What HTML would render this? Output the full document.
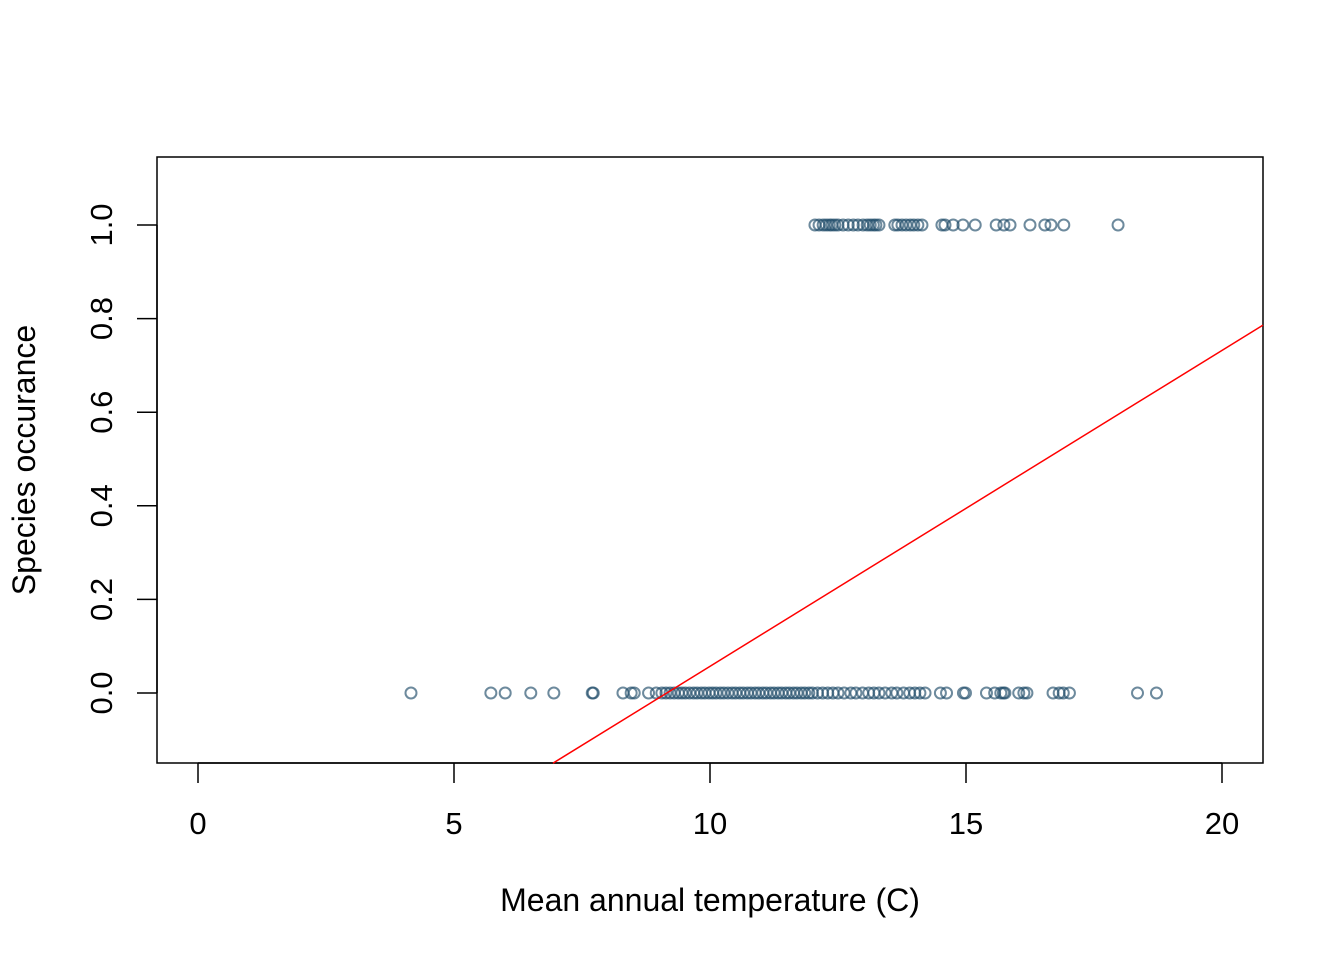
<!DOCTYPE html>
<html><head><meta charset="utf-8"><style>
html,body{margin:0;padding:0;background:#fff;}
svg{display:block;font-family:"Liberation Sans",Arial,sans-serif;}
</style></head><body>
<svg id="chart" width="1344" height="960">
<rect x="157" y="157" width="1106" height="606" fill="none" stroke="#000" stroke-width="1.5"/>
<g id="xaxis"></g>
<g id="yaxis"></g>
<g id="points"></g>
<g id="fit"></g>
<text x="710" y="911" font-size="32" text-anchor="middle">Mean annual temperature (C)</text>
<text transform="translate(35,460) rotate(-90)" font-size="32" text-anchor="middle">Species occurance</text>
</svg>
<script>
const xTicks=[0,5,10,15,20];
const yTicks=[0.0,0.2,0.4,0.6,0.8,1.0];
const yTickLabels=["0.0","0.2","0.4","0.6","0.8","1.0"];
const presenceTemps=[12.05,12.13,12.21,12.27,12.33,12.38,12.44,12.5,12.6,12.7,12.8,12.89,12.99,13.07,13.13,13.19,13.24,13.3,13.61,13.67,13.75,13.83,13.91,13.98,14.06,14.14,14.53,14.59,14.75,14.94,15.18,15.59,15.74,15.86,16.25,16.54,16.66,16.91,17.97];
const absenceTemps=[4.16,5.72,6.0,6.5,6.95,7.7,7.72,8.3,8.46,8.52,8.8,8.95,9.06,9.14,9.22,9.3,9.38,9.45,9.52,9.6,9.68,9.75,9.83,9.9,9.98,10.05,10.12,10.2,10.27,10.35,10.43,10.5,10.58,10.65,10.73,10.8,10.88,10.95,11.03,11.1,11.18,11.25,11.33,11.4,11.48,11.55,11.63,11.7,11.78,11.85,11.93,12.0,12.1,12.2,12.3,12.4,12.5,12.62,12.75,12.85,12.98,13.1,13.2,13.3,13.42,13.55,13.65,13.78,13.9,14.0,14.1,14.2,14.5,14.62,14.95,14.99,15.4,15.56,15.68,15.73,15.76,16.03,16.13,16.19,16.7,16.82,16.9,17.02,18.35,18.72];
const fitIntercept=-0.618, fitSlope=0.0675;
const X=v=>198+v*51.2, Y=v=>693-v*468;
const NS="http://www.w3.org/2000/svg";
function mk(tag,attrs,parent){const e=document.createElementNS(NS,tag);for(const k in attrs)e.setAttribute(k,attrs[k]);parent.appendChild(e);return e;}
const xa=document.getElementById('xaxis'),ya=document.getElementById('yaxis'),pts=document.getElementById('points'),fit=document.getElementById('fit');
mk('line',{x1:X(0),x2:X(20),y1:763,y2:763,stroke:'#000','stroke-width':1.5},xa);
xTicks.forEach(t=>{
 const l=mk('line',{x1:X(t),x2:X(t),y1:763,y2:783,stroke:'#000','stroke-width':1.5},xa);
 
 
 const tx=mk('text',{x:X(t),y:834,'font-size':31,'text-anchor':'middle'},xa);tx.textContent=t;
 
 
});
mk('line',{x1:157,x2:157,y1:Y(0),y2:Y(1),stroke:'#000','stroke-width':1.5},ya);
yTicks.forEach((t,i)=>{
 const l=mk('line',{x1:137,x2:157,y1:Y(t),y2:Y(t),stroke:'#000','stroke-width':1.5},ya);
 
 
 const tx=mk('text',{transform:`translate(112,${Y(t)}) rotate(-90)`,'font-size':31,'text-anchor':'middle'},ya);tx.textContent=yTickLabels[i];
 
 
});
function drawPts(arr,yv){arr.forEach(v=>{
 const c=mk('circle',{cx:X(v),cy:Y(yv),r:5.5,fill:'none',stroke:'rgba(30,75,105,0.65)','stroke-width':2},pts);
 
 
});}
drawPts(presenceTemps,1);drawPts(absenceTemps,0);
const x0=(-0.15-fitIntercept)/fitSlope, x1=(1263-198)/51.2;
const fl=mk('line',{x1:X(x0),y1:Y(fitIntercept+fitSlope*x0),x2:X(x1),y2:Y(fitIntercept+fitSlope*x1),stroke:'#ff0000','stroke-width':1.5},fit);


</script>
</body></html>
